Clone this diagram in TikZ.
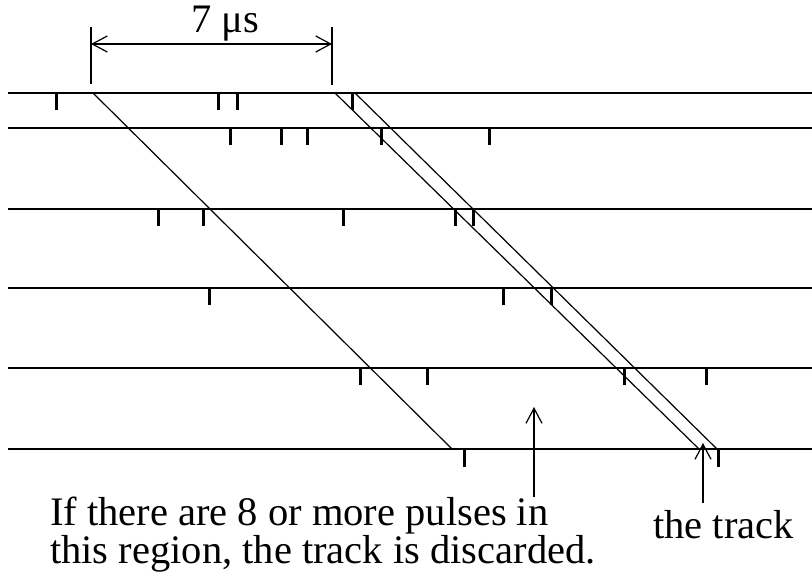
\documentclass[tikz,border=0pt]{standalone}
\usepackage{fontspec}
\setmainfont{Liberation Serif}
\usetikzlibrary{arrows.meta}
\begin{document}
\begin{tikzpicture}[x=1pt,y=-1pt,
  wire/.style={line width=1.5pt},
  trackline/.style={line width=1.2pt},
  pulse/.style={line width=3pt},
  arr/.style={line width=1.2pt,-{Straight Barb[length=15pt,width=16pt,line width=1.2pt]}},
  dimarr/.style={line width=1.2pt,{Straight Barb[length=15pt,width=16pt,line width=1.2pt]}-{Straight Barb[length=15pt,width=16pt,line width=1.2pt]}},
  lbl/.style={inner sep=0pt,font=\fontsize{40.5}{34}\selectfont}]
\useasboundingbox (0,0) rectangle (812,571);
% wires
\foreach \y in {93,128,209,288,368,449} \draw[wire] (8,\y) -- (812,\y);
% pulses
\foreach \x in {56,218,237,352} \draw[pulse] (\x,93) -- (\x,110);
\foreach \x in {230,281,307,381,489} \draw[pulse] (\x,128) -- (\x,145);
\foreach \x in {158,203,343,455,473} \draw[pulse] (\x,209) -- (\x,226);
\foreach \x in {209,503,551} \draw[pulse] (\x,288) -- (\x,305);
\foreach \x in {360,427,624,706} \draw[pulse] (\x,368) -- (\x,385);
\foreach \x in {464,718} \draw[pulse] (\x,449) -- (\x,467);
% tracks
\coordinate (t1a) at (93,93);  \coordinate (t1b) at (452,449);
\coordinate (t2a) at (335,93); \coordinate (t2b) at (699,449);
\coordinate (t3a) at (355,93); \coordinate (t3b) at (717,449);
\draw[trackline] (t1a) -- (t1b);
\draw[trackline] (t2a) -- (t2b);
\draw[trackline] (t3a) -- (t3b);
% dimension
\coordinate (d1t) at (91,27); \coordinate (d1b) at (91,84);
\coordinate (d2t) at (332,27); \coordinate (d2b) at (332,85);
\coordinate (d1m) at (91,44); \coordinate (d2m) at (332,44);
\draw[trackline] (d1t) -- (d1b);
\draw[trackline] (d2t) -- (d2b);
\draw[dimarr] (d1m) -- (d2m);
\node[lbl,anchor=base] (dim) at (225.5,32) {7 μs};
% annotations
\node[lbl,anchor=north west,align=left] (region) at (50,497) {If there are 8 or more pulses in\\this region, the track is discarded.};
\node[lbl,anchor=base] (trk) at (723.5,538) {the track};
\coordinate (a1s) at (534,497); \coordinate (a1e) at (534,407);
\coordinate (a2s) at (703,503); \coordinate (a2e) at (703,443);
\draw[arr] (a1s) -- (a1e);
\draw[arr] (a2s) -- (a2e);
\end{tikzpicture}
\end{document}
